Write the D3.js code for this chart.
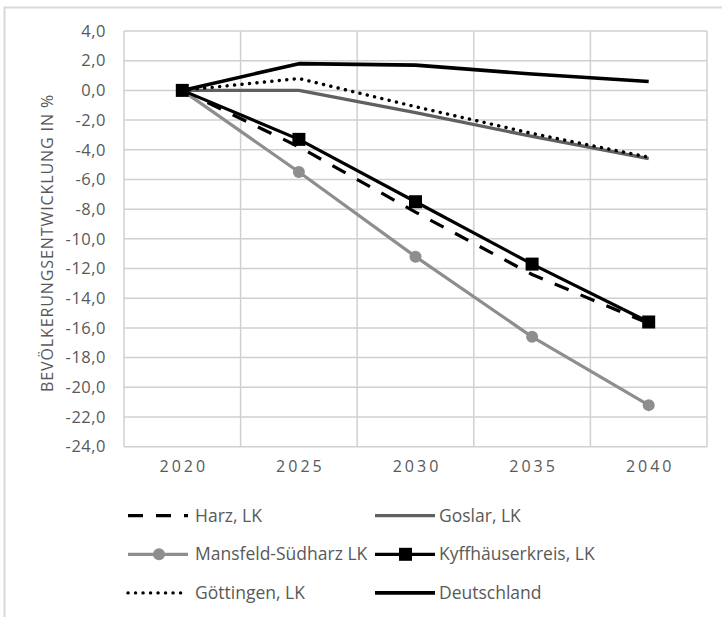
<!DOCTYPE html>
<html><head><meta charset="utf-8">
<script src="https://cdn.jsdelivr.net/npm/d3@7"></script>
<style>
html,body{margin:0;padding:0;background:#fff;}
svg{display:block;}
text{font-family:"Open Sans",sans-serif;fill:#595959;}
</style></head>
<body><svg id="c" width="722" height="617"></svg>
<script>
const years = ["2020","2025","2030","2035","2040"];
const yTicks = [4,2,0,-2,-4,-6,-8,-10,-12,-14,-16,-18,-20,-22,-24];
const harz = [0,-3.8,-8.2,-12.4,-15.7];
const goslar = [0,0.0,-1.5,-3.1,-4.6];
const mansfeld = [0,-5.5,-11.2,-16.6,-21.2];
const kyffhaeuser = [0,-3.3,-7.5,-11.7,-15.6];
const goettingen = [0,0.8,-1.1,-2.9,-4.5];
const deutschland = [0,1.8,1.7,1.1,0.6];
const seriesNames = ["Harz, LK","Goslar, LK","Mansfeld-Südharz LK","Kyffhäuserkreis, LK","Göttingen, LK","Deutschland"];
const yTitle = "BEVÖLKERUNGSENTWICKLUNG IN %";

const styles = [
  {color:"#000", w:3.2, dash:"15,13", cap:"butt", marker:null},
  {color:"#606060", w:3.2, dash:null, cap:"butt", marker:null},
  {color:"#8e8e8e", w:3.2, dash:null, cap:"butt", marker:"circle"},
  {color:"#000", w:3.2, dash:null, cap:"butt", marker:"square"},
  {color:"#000", w:3.4, dash:"0.1,7.4", cap:"round", marker:null},
  {color:"#000", w:3.6, dash:null, cap:"butt", marker:null}
];
const allValues = [harz,goslar,mansfeld,kyffhaeuser,goettingen,deutschland];
const series = seriesNames.map((n,i)=>({name:n, values:allValues[i], style:styles[i]}));

const svg = d3.select("#c");
const L=124, R=707, T=31, B=446.7;
const x = d3.scaleBand().domain(years).range([L,R]).padding(0);
const y = d3.scaleLinear().domain([-24,4]).range([B,T]);
const cx = d => x(d)+x.bandwidth()/2;

// outer border
svg.append("path").attr("d","M4.5,700 V7.5 H722").attr("fill","none").attr("stroke","#d9d9d9").attr("stroke-width",2);

// grid
const grid = svg.append("g").attr("stroke","#d0d0d0").attr("stroke-width",1.5);
yTicks.forEach(t=>grid.append("line").attr("x1",L).attr("x2",R).attr("y1",y(t)).attr("y2",y(t)));
const bounds = years.map(d=>x(d)).concat([R]);
bounds.forEach(b=>grid.append("line").attr("x1",b).attr("x2",b).attr("y1",T).attr("y2",B));

// y axis labels via d3 axis
const yAxis = d3.axisLeft(y).tickValues(yTicks).tickSize(0).tickPadding(0)
  .tickFormat(d=>d3.format(".1f")(d).replace(".",",").replace("−","-"));
const ga = svg.append("g").attr("transform",`translate(106,0)`).call(yAxis);
ga.select(".domain").remove();
ga.selectAll("text").style("font-family","Open Sans").style("font-size","16.5px").attr("fill","#595959").style("letter-spacing","0.5px");

// x axis labels
const xAxis = d3.axisBottom(x).tickSize(0).tickPadding(0);
const gx = svg.append("g").attr("transform",`translate(1.5,${B+14})`).call(xAxis);
gx.select(".domain").remove();
gx.selectAll("text").style("font-family","Open Sans").style("font-size","16px").attr("fill","#595959").style("letter-spacing","3px");

// y title
svg.append("text").attr("transform",`translate(53,243) rotate(-90)`).attr("text-anchor","middle")
  .style("font-size","16px").style("letter-spacing","0.9px").text(yTitle);

// lines
const line = d3.line().x((d,i)=>cx(years[i])).y(d=>y(d));
series.forEach(s=>{
  const g = svg.append("g");
  g.append("path").attr("d",line(s.values)).attr("fill","none").attr("stroke",s.style.color)
    .attr("stroke-width",s.style.w).attr("stroke-dasharray",s.style.dash).attr("stroke-linecap",s.style.cap)
    .attr("stroke-linejoin","round");
  if(s.style.marker==="circle"){
    g.selectAll("circle").data(s.values).join("circle").attr("cx",(d,i)=>cx(years[i])).attr("cy",d=>y(d)).attr("r",6).attr("fill",s.style.color);
  } else if(s.style.marker==="square"){
    g.selectAll("rect").data(s.values).join("rect").attr("x",(d,i)=>cx(years[i])-6.5).attr("y",d=>y(d)-6.5).attr("width",13).attr("height",13).attr("fill",s.style.color);
  }
});

// legend
const legPos = [[128,515.7],[375,515.7],[128,554.3],[375,554.3],[128,592.9],[375,592.9]];
series.forEach((s,i)=>{
  const [lx,ly] = legPos[i];
  const g = svg.append("g").attr("transform",`translate(${lx},${ly})`);
  g.append("line").attr("x1",0).attr("x2",60).attr("y1",0).attr("y2",0).attr("stroke",s.style.color)
    .attr("stroke-width",s.style.w).attr("stroke-dasharray",s.style.dash).attr("stroke-linecap",s.style.cap);
  if(s.style.marker==="circle") g.append("circle").attr("cx",31).attr("cy",0).attr("r",6).attr("fill",s.style.color);
  if(s.style.marker==="square") g.append("rect").attr("x",24).attr("y",-6.5).attr("width",13).attr("height",13).attr("fill",s.style.color);
  g.append("text").attr("x",i%2===0?67:64).attr("y",0).attr("dy","0.35em").style("font-size","17.5px").text(s.name);
});
</script></body></html>
